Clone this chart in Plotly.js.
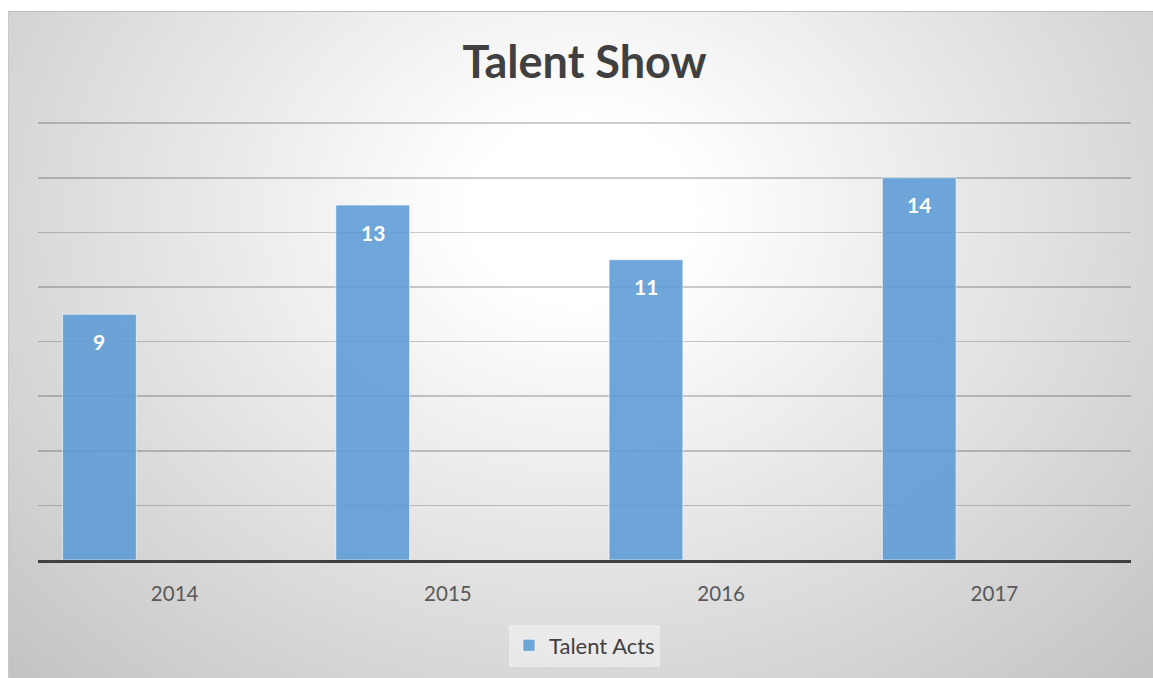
<!DOCTYPE html>
<html>
<head>
<meta charset="utf-8">
<script src="https://cdn.plot.ly/plotly-3.0.1.min.js"></script>
<style>
html,body{margin:0;padding:0;background:#fff;width:1153px;height:678px;overflow:hidden;}
#bg{position:absolute;left:8px;top:11px;width:1145px;height:667px;
 background:radial-gradient(ellipse farthest-corner at 50% 30%, #ffffff 14%, #c3c3c3 100%);
 border-top:1px solid #bdbdbd;border-left:1px solid #c8c8c8;}
#chart{position:absolute;left:0;top:0;width:1153px;height:678px;}
</style>
</head>
<body>
<div id="bg"></div>
<div id="chart"></div>
<script>
const years = ['2014','2015','2016','2017'];
const talentActs = [9, 13, 11, 14];
const seriesName = 'Talent Acts';

const xIdx = years.map((_, i) => i);
const barWidth = 0.27;
const barOffset = -0.41;

const trace = {
  type: 'bar',
  x: xIdx,
  y: talentActs,
  name: seriesName,
  width: barWidth,
  offset: barOffset,
  marker: {color: 'rgba(91,155,213,0.88)', line: {color: 'rgba(255,255,255,0.6)', width: 1}},
  hoverinfo: 'none'
};

const annotations = talentActs.map((v, i) => ({
  x: i + barOffset + barWidth / 2,
  y: v,
  xref: 'x', yref: 'y',
  text: '<b>' + v + '</b>',
  showarrow: false,
  yanchor: 'middle',
  yshift: -27,
  font: {family: 'Lato, "Open Sans", sans-serif', size: 21, color: '#ffffff'}
}));

const layout = {
  width: 1153, height: 678,
  paper_bgcolor: 'rgba(0,0,0,0)',
  plot_bgcolor: 'rgba(0,0,0,0)',
  margin: {l: 38, r: 22, t: 115, b: 118},
  title: {text: '<b>Talent Show</b>', x: 0.507, xanchor: 'center', y: 0.908, yanchor: 'middle',
    font: {family: 'Lato, "Open Sans", sans-serif', size: 45, color: '#404040'}},
  xaxis: {
    range: [-0.5, 3.5],
    tickvals: xIdx, ticktext: years,
    showgrid: false, zeroline: false,
    showline: true, linecolor: '#404040', linewidth: 3,
    ticks: '', ticklabelstandoff: 13,
    tickfont: {family: 'Lato, "Open Sans", sans-serif', size: 20.5, color: '#595959'}
  },
  yaxis: {
    range: [0, 16.3], tickvals: [2,4,6,8,10,12,14,16],
    showticklabels: false, zeroline: false,
    showgrid: true, gridcolor: 'rgba(0,0,0,0.2)', gridwidth: 1.5
  },
  showlegend: true,
  legend: {orientation: 'h', x: 0.5, xanchor: 'center', y: -0.145, yanchor: 'top',
    bgcolor: 'rgba(245,245,245,0.55)',
    font: {family: 'Lato, "Open Sans", sans-serif', size: 22, color: '#404040'}},
  annotations: annotations,
  bargap: 0
};

Plotly.newPlot('chart', [trace], layout, {displayModeBar: false, staticPlot: true});
</script>
</body>
</html>
